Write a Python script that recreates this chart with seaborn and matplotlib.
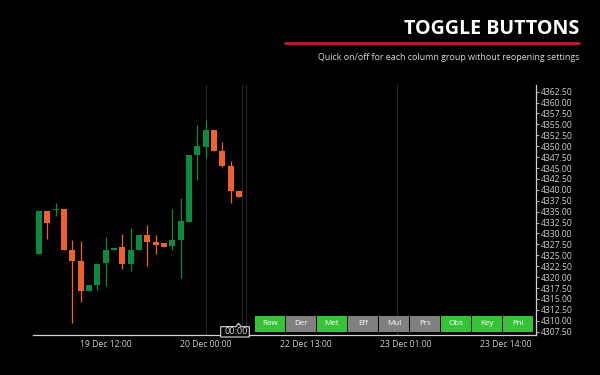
import numpy as np
import matplotlib
matplotlib.use("Agg")
import matplotlib.pyplot as plt
from matplotlib.patches import Rectangle, Polygon
import seaborn as sns

# ---- data ----
opens  = [4325.2, 4335.2, 4335.3, 4335.5, 4326.2, 4323.7, 4316.9, 4318.2, 4323.3, 4326.2,
          4326.8, 4322.9, 4326.2, 4329.7, 4328.1, 4327.8, 4327.2, 4328.6, 4332.6, 4348.0,
          4349.8, 4353.7, 4349.0, 4345.5, 4339.7]
highs  = [4335.1, 4335.2, 4337.1, 4335.5, 4328.5, 4328.3, 4318.3, 4323.1, 4329.2, 4326.6,
          4329.9, 4331.3, 4329.7, 4332.0, 4329.7, 4327.8, 4335.6, 4338.2, 4348.1, 4354.9,
          4356.0, 4353.7, 4350.9, 4346.7, 4339.7]
lows   = [4325.2, 4328.8, 4333.9, 4326.3, 4309.6, 4314.2, 4316.9, 4317.1, 4318.0, 4326.2,
          4321.9, 4321.3, 4326.2, 4322.6, 4325.4, 4327.0, 4326.2, 4319.9, 4332.6, 4342.3,
          4347.4, 4349.0, 4345.3, 4337.1, 4338.3]
closes = [4335.1, 4332.5, 4335.5, 4326.3, 4323.6, 4316.9, 4318.3, 4323.1, 4326.2, 4326.6,
          4323.0, 4326.2, 4329.7, 4328.1, 4327.4, 4327.0, 4328.5, 4332.9, 4348.1, 4350.1,
          4353.7, 4349.0, 4345.5, 4339.8, 4338.3]

tick_positions = [8, 20, 32, 44, 56]
tick_labels = ["19 Dec 12:00", "20 Dec 00:00", "22 Dec 13:00", "23 Dec 01:00", "23 Dec 14:00"]
session_lines = [20, 24.4, 24.85, 43]

button_labels = ["Raw", "Der", "Met", "Eff", "Mul", "Prs", "Obs", "Key", "Pnl"]
button_on = [True, False, True, False, False, False, True, True, True]

title = "TOGGLE BUTTONS"
subtitle = "Quick on/off for each column group without reopening settings"
crosshair_label = "00:00"

# ---- style ----
sns.set_theme(style="dark")
plt.rcParams["font.family"] = ["Open Sans", "DejaVu Sans"]

BG = "#000000"
UP = "#0d8a3e"
DOWN = "#f0622d"
BTN_ON = "#36c436"
BTN_OFF = "#808080"
AXC = "#d0d0d0"
TXT = "#cfcfcf"

W, H = 600, 375
fig = plt.figure(figsize=(6, 3.75), dpi=100, facecolor=BG)

def fx(x):
    return x / W

def fy(y):
    return 1 - y / H

ax = fig.add_axes([fx(33), fy(335.3), fx(535.7) - fx(33), fy(85) - fy(335.3)])
ax.set_facecolor(BG)

idx = np.arange(len(opens))
o = np.array(opens); c = np.array(closes); h = np.array(highs); l = np.array(lows)
colors = [UP if cc >= oo else DOWN for oo, cc in zip(o, c)]

for x in session_lines:
    ax.axvline(x, color="#262626", lw=0.8, zorder=1)

ax.vlines(idx, l, h, colors=colors, lw=0.9, zorder=2)
body_bottom = np.minimum(o, c)
body_height = np.maximum(np.abs(c - o), 0.3)
ax.bar(idx, body_height, bottom=body_bottom, width=0.72, color=colors, linewidth=0, zorder=3)

ax.set_xlim(-0.72, 59.6)
ax.set_ylim(4306.67, 4364.03)

ax.yaxis.tick_right()
yt = np.arange(4307.5, 4362.6, 2.5)
ax.set_yticks(yt)
ax.set_yticklabels([f"{v:.2f}" for v in yt])
ax.set_xticks(tick_positions)
ax.set_xticklabels(tick_labels)
ax.tick_params(axis="y", colors=AXC, labelcolor=TXT, labelsize=6.2, length=2.5, width=0.6, pad=1, direction="out")
ax.tick_params(axis="x", colors=AXC, labelcolor=TXT, labelsize=6.2, length=2, width=0.6, pad=1.5, direction="out")
ax.grid(False)
for s in ["top", "left"]:
    ax.spines[s].set_visible(False)
for s in ["bottom", "right"]:
    ax.spines[s].set_color(AXC)
    ax.spines[s].set_linewidth(0.9)

# ---- buttons ----
bx0, bw, gap = 255, 30.0, 1.0
by0, by1 = 315.7, 331.7
for i, (lab, on) in enumerate(zip(button_labels, button_on)):
    x0 = bx0 + i * (bw + gap)
    fig.add_artist(Rectangle((fx(x0), fy(by1)), fx(bw), fy(by0) - fy(by1),
                             transform=fig.transFigure, facecolor=BTN_ON if on else BTN_OFF,
                             edgecolor="none", zorder=5))
    fig.text(fx(x0 + bw / 2), fy((by0 + by1) / 2), lab, color="white", fontsize=5.8,
             ha="center", va="center", zorder=6)

# ---- crosshair label ----
px = [220.7, 235.7, 238.4, 241.2, 249.3, 249.3, 220.7]
py = [326.7, 326.7, 323.3, 326.7, 326.7, 337.0, 337.0]
fig.add_artist(Polygon(list(zip([fx(v) for v in px], [fy(v) for v in py])), closed=True,
                       transform=fig.transFigure, facecolor=BG, edgecolor="#e0e0e0",
                       lw=0.8, zorder=7))
fig.text(fx(248), fy(332), crosshair_label, color="#e0e0e0", fontsize=6.5,
         ha="right", va="center", zorder=8)

# ---- header ----
fig.text(fx(579), fy(29), title, color="white", fontsize=14.1, fontweight="bold",
         ha="right", va="center")
fig.add_artist(plt.Line2D([fx(285), fx(579)], [fy(43), fy(43)], transform=fig.transFigure,
                          color="#c41e3a", lw=1.9))
fig.text(fx(579), fy(58), subtitle, color="#d8d8d8", fontsize=6.4, ha="right", va="center")

fig.savefig("out.png", dpi=100, facecolor=BG)
